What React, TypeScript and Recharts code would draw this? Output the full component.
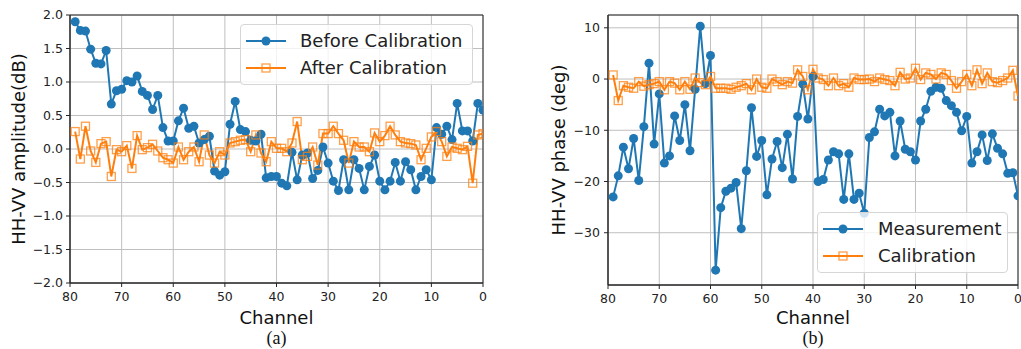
import React from 'react';
import { LineChart, Line, XAxis, YAxis, CartesianGrid, Legend, ReferenceArea } from 'recharts';

// Channels (x axis categories), from 79 down to 0
const channels = [
  79, 78, 77, 76, 75, 74, 73, 72, 71, 70,
  69, 68, 67, 66, 65, 64, 63, 62, 61, 60,
  59, 58, 57, 56, 55, 54, 53, 52, 51, 50,
  49, 48, 47, 46, 45, 44, 43, 42, 41, 40,
  39, 38, 37, 36, 35, 34, 33, 32, 31, 30,
  29, 28, 27, 26, 25, 24, 23, 22, 21, 20,
  19, 18, 17, 16, 15, 14, 13, 12, 11, 10,
  9, 8, 7, 6, 5, 4, 3, 2, 1, 0,
];

// (a) HH-VV amplitude (dB)
const ampBefore = [
  1.90, 1.77, 1.76, 1.49, 1.28, 1.27, 1.47, 0.67, 0.87, 0.89,
  1.02, 1.00, 1.09, 0.86, 0.80, 0.59, 0.80, 0.32, 0.12, 0.12,
  0.42, 0.61, 0.31, 0.34, 0.09, 0.14, 0.19, -0.33, -0.39, -0.34,
  0.37, 0.71, 0.29, 0.26, 0.13, 0.12, 0.22, -0.43, -0.41, -0.41,
  -0.51, -0.55, -0.05, -0.46, -0.09, -0.06, -0.44, -0.32, 0.03, -0.21,
  -0.48, -0.62, -0.16, -0.61, -0.16, -0.29, -0.61, -0.26, -0.09, -0.48,
  -0.61, -0.48, -0.20, -0.48, -0.19, -0.31, -0.61, -0.41, -0.31, -0.46,
  0.32, 0.22, 0.34, 0.14, 0.68, 0.27, 0.27, 0.12, 0.68, 0.58,
];
const ampAfter = [
  0.26, -0.15, 0.34, -0.03, -0.20, 0.08, 0.11, -0.41, -0.01, -0.04,
  0.05, -0.29, 0.20, -0.01, 0.02, 0.07, -0.03, -0.13, -0.16, -0.21,
  0.03, -0.16, -0.04, 0.03, -0.19, 0.21, -0.09, -0.21, -0.04, -0.09,
  0.09, 0.11, 0.13, 0.14, -0.04, 0.21, -0.06, -0.19, 0.11, 0.01,
  0.01, -0.04, 0.09, 0.41, -0.16, -0.11, 0.03, -0.24, 0.23, 0.23,
  0.34, 0.23, 0.13, -0.21, 0.11, 0.03, 0.03, -0.04, 0.24, 0.11,
  0.20, 0.34, 0.21, 0.11, 0.09, 0.08, 0.06, -0.16, 0.01, 0.18,
  0.26, 0.11, -0.11, 0.03, 0.01, -0.01, 0.04, -0.51, 0.21, 0.23,
];

// (b) HH-VV phase (deg)
const phaseMeas = [
  -23.0, -18.9, -13.3, -17.5, -11.6, -19.8, -9.3, 3.1, -12.7, -2.9,
  -16.4, -15.0, -7.2, -12.0, -5.0, -14.0, -2.0, 10.3, -0.9, 4.6,
  -37.3, -25.1, -21.9, -21.3, -20.2, -29.2, -17.9, -5.6, -15.1, -12.0,
  -22.6, -15.6, -12.2, -17.3, -10.8, -19.5, -7.3, -1.0, -7.8, 0.5,
  -20.0, -19.6, -15.8, -14.2, -14.6, -23.5, -14.6, -23.5, -22.3, -26.2,
  -11.4, -10.3, -5.9, -7.2, -6.5, -15.0, -8.2, -13.7, -14.2, -15.8,
  -8.2, -5.9, -2.4, -1.6, -1.8, -4.2, -5.2, -6.5, -10.1, -7.3,
  -16.4, -14.2, -10.9, -15.9, -10.7, -13.5, -14.6, -18.4, -18.3, -22.8,
];
const phaseCal = [
  0.8, -4.2, -1.3, -1.6, -1.8, -0.5, -1.4, -1.1, -0.9, -0.5,
  -2.1, -0.5, -0.8, -2.1, -0.5, -2.0, 0.2, -0.7, -1.1, 0.5,
  -1.8, -1.8, -1.8, -2.0, -1.6, -1.3, -0.9, -2.1, 0.0, -1.6,
  -1.8, 0.0, -0.5, -1.1, -0.5, -0.8, 1.8, 0.5, -2.1, 1.9,
  0.2, -0.1, -1.3, 0.2, -1.3, -0.9, -1.6, 0.2, -0.1, -0.1,
  0.0, -0.5, 0.2, -0.1, -0.3, -1.3, 1.3, 0.0, 0.2, 2.1,
  -0.1, 1.2, 0.9, 0.0, 1.2, 0.9, -0.3, -1.8, -0.5, 0.9,
  -1.3, 1.8, -0.9, 1.2, -0.5, -0.7, -0.3, 0.2, 1.7, -3.3,
];

const xTicks = [80, 70, 60, 50, 40, 30, 20, 10, 0];
const ampTicks = [-2.0, -1.5, -1.0, -0.5, 0.0, 0.5, 1.0, 1.5, 2.0];
const phaseTicks = [-30, -20, -10, 0, 10];
const ampDomain = [-2, 2];
const phaseDomain = [-40.2, 12.5];

const ampSeriesNames = ['Before Calibration', 'After Calibration'];
const phaseSeriesNames = ['Measurement', 'Calibration'];

const ampData = channels.map((ch, i) => ({ ch, before: ampBefore[i], after: ampAfter[i] }));
const phaseData = channels.map((ch, i) => ({ ch, meas: phaseMeas[i], cal: phaseCal[i] }));

const BLUE = '#1f77b4';
const ORANGE = '#ff7f0e';
const INK = '#262626';
const GRID = '#bfbfbf';
const SANS = 'DejaVu Sans';

const tickStyle = { fontFamily: SANS, fontSize: 12.5, fill: '#222' };

const fmt = (digits: number) => (v: number) => {
  const s = Math.abs(v).toFixed(digits);
  return v < 0 ? '\u2212' + s : s;
};

const SquareDot = (props: any) => {
  const { cx, cy, index } = props;
  if (cx == null || cy == null) return <g key={`sq-${index}`} />;
  return (
    <rect
      key={`sq-${index}`}
      x={cx - 4}
      y={cy - 4}
      width={8}
      height={8}
      fill="none"
      stroke={ORANGE}
      strokeOpacity={0.75}
      strokeWidth={1.3}
    />
  );
};

const makeXLabel = (caption: string, titleDy: number, capDy: number) => (props: any) => {
  const vb = props.viewBox || {};
  const cx = vb.x + vb.width / 2;
  return (
    <g>
      <text x={cx} y={vb.y + titleDy} textAnchor="middle" dominantBaseline="central"
        style={{ fontFamily: SANS, fontSize: 18, fill: '#111' }}>Channel</text>
      <text x={cx} y={vb.y + capDy} textAnchor="middle" dominantBaseline="central"
        style={{ fontFamily: 'Liberation Serif', fontSize: 18, fill: '#111' }}>{caption}</text>
    </g>
  );
};

const makeYLabel = (text: string, x: number) => (props: any) => {
  const vb = props.viewBox || {};
  const cy = vb.y + vb.height / 2;
  return (
    <text x={x} y={cy} transform={`rotate(-90 ${x} ${cy})`} textAnchor="middle" dominantBaseline="central"
      style={{ fontFamily: SANS, fontSize: 18, fill: '#111' }}>{text}</text>
  );
};

const LegendIcon = ({ kind }: { kind: 'circle' | 'square' }) => (
  <svg width={40} height={14} style={{ display: 'block', flex: 'none' }}>
    <line x1={0} y1={7} x2={40} y2={7} stroke={kind === 'circle' ? BLUE : ORANGE} strokeWidth={2} />
    {kind === 'circle' ? (
      <circle cx={20} cy={7} r={4.5} fill={BLUE} />
    ) : (
      <rect x={16} y={3} width={8} height={8} fill="none" stroke={ORANGE} strokeOpacity={0.75} strokeWidth={1.3} />
    )}
  </svg>
);

const makeLegend = (names: string[], gap: number) => () => (
  <div style={{
    boxSizing: 'border-box', width: '100%', height: '100%',
    background: 'rgba(255,255,255,0.8)', border: '1px solid #d6d6d6', borderRadius: 4,
    padding: '2px 0 0 5px',
  }}>
    {names.map((n, i) => (
      <div key={n} style={{ display: 'flex', alignItems: 'center', height: 27 }}>
        <LegendIcon kind={i === 0 ? 'circle' : 'square'} />
        <span style={{ marginLeft: gap, fontFamily: SANS, fontSize: 18, color: '#222', whiteSpace: 'nowrap', lineHeight: '27px' }}>{n}</span>
      </div>
    ))}
  </div>
);

export default function App() {
  return (
    <div style={{ position: 'absolute', left: 0, top: 0, width: 1021, height: 349, background: '#fff', overflow: 'hidden' }}>
      <div style={{ position: 'absolute', left: 0, top: 0 }}>
        <LineChart width={500} height={349} data={ampData} margin={{ top: 15, right: 17, bottom: 36, left: 10 }}>
          <CartesianGrid stroke={GRID} strokeWidth={1} />
          <XAxis dataKey="ch" type="number" domain={[0, 80]} reversed ticks={xTicks} allowDataOverflow
            height={30} tickSize={4} tickMargin={5} tick={tickStyle}
            axisLine={{ stroke: INK }} tickLine={{ stroke: INK }}
            label={{ content: makeXLabel('(a)', 34, 55) } as any} />
          <YAxis type="number" domain={ampDomain} ticks={ampTicks} allowDataOverflow width={60}
            tickSize={4} tickMargin={3} tick={tickStyle} tickFormatter={fmt(1)}
            axisLine={{ stroke: INK }} tickLine={{ stroke: INK }}
            label={{ content: makeYLabel('HH-VV amplitude(dB)', 18) } as any} />
          <ReferenceArea x1={80} x2={0} y1={-2} y2={2} fill="none" stroke={INK} strokeWidth={1} ifOverflow="visible" />
          <Line type="linear" dataKey="before" name={ampSeriesNames[0]} stroke={BLUE} strokeWidth={2}
            dot={{ r: 4.5, fill: BLUE, stroke: BLUE, strokeWidth: 0 }} isAnimationActive={false} />
          <Line type="linear" dataKey="after" name={ampSeriesNames[1]} stroke={ORANGE} strokeWidth={2}
            dot={SquareDot} isAnimationActive={false} />
          <Legend layout="horizontal" verticalAlign="middle" align="center"
            wrapperStyle={{ left: 240, top: 24, width: 233, height: 61 }}
            content={makeLegend(ampSeriesNames, 14)} />
        </LineChart>
      </div>
      <div style={{ position: 'absolute', left: 520, top: 0 }}>
        <LineChart width={501} height={349} data={phaseData} margin={{ top: 15, right: 3, bottom: 34, left: 38 }}>
          <CartesianGrid stroke={GRID} strokeWidth={1} />
          <XAxis dataKey="ch" type="number" domain={[0, 80]} reversed ticks={xTicks} allowDataOverflow
            height={30} tickSize={4} tickMargin={5} tick={tickStyle}
            axisLine={{ stroke: INK }} tickLine={{ stroke: INK }}
            label={{ content: makeXLabel('(b)', 32, 53) } as any} />
          <YAxis type="number" domain={phaseDomain} ticks={phaseTicks} allowDataOverflow width={50}
            tickSize={4} tickMargin={4} tick={tickStyle} tickFormatter={fmt(0)}
            axisLine={{ stroke: INK }} tickLine={{ stroke: INK }}
            label={{ content: makeYLabel('HH-VV phase (deg)', 38) } as any} />
          <ReferenceArea x1={80} x2={0} y1={phaseDomain[0]} y2={phaseDomain[1]} fill="none" stroke={INK} strokeWidth={1} ifOverflow="visible" />
          <Line type="linear" dataKey="meas" name={phaseSeriesNames[0]} stroke={BLUE} strokeWidth={2}
            dot={{ r: 4.5, fill: BLUE, stroke: BLUE, strokeWidth: 0 }} isAnimationActive={false} />
          <Line type="linear" dataKey="cal" name={phaseSeriesNames[1]} stroke={ORANGE} strokeWidth={2}
            dot={SquareDot} isAnimationActive={false} />
          <Legend layout="horizontal" verticalAlign="middle" align="center"
            wrapperStyle={{ left: 297, top: 212, width: 191, height: 61 }}
            content={makeLegend(phaseSeriesNames, 15)} />
        </LineChart>
      </div>
    </div>
  );
}
